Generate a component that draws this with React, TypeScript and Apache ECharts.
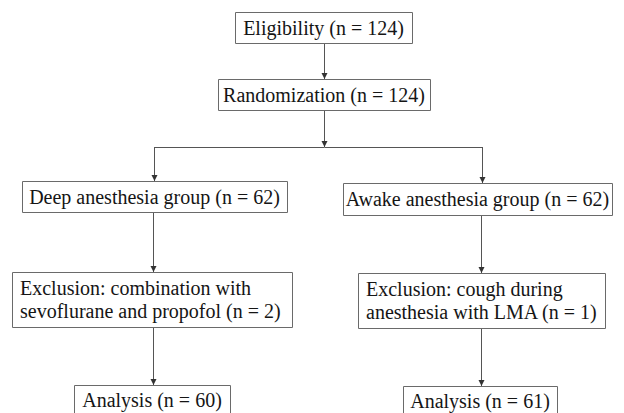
import React, { useEffect, useRef } from "react";
import * as echarts from "echarts";

// ---- data ----
const stageNames = [
  "Eligibility",
  "Randomization",
  "Deep anesthesia group",
  "Awake anesthesia group",
  "Exclusion: combination with\nsevoflurane and propofol",
  "Exclusion: cough during\nanesthesia with LMA",
  "Analysis",
  "Analysis",
];
const stageCounts = [124, 124, 62, 62, 2, 1, 60, 61];
// flow edges: [from, to]
const edges: [number, number][] = [
  [0, 1],
  [1, 2],
  [1, 3],
  [2, 4],
  [3, 5],
  [4, 6],
  [5, 7],
];

// ---- layout (positions/sizes) ----
const boxes = [
  { x: 235, y: 12, w: 177, h: 31, align: "center" },
  { x: 218, y: 79, w: 212, h: 31, align: "center" },
  { x: 22, y: 181, w: 265, h: 31, align: "center" },
  { x: 343, y: 183, w: 269, h: 32, align: "center" },
  { x: 12, y: 272, w: 280, h: 55, align: "left" },
  { x: 358, y: 273, w: 247, h: 55, align: "left" },
  { x: 74, y: 385, w: 156, h: 34, align: "center" },
  { x: 403, y: 386, w: 154, h: 34, align: "center" },
];
const portX = [324, 324, 154, 482, 153, 481, 153, 481];
const splitY = 147;

const LINE = "#555";
const BORDER = "#6a6a6a";
const TEXT = "#151515";
const FAMILY = "Liberation Serif";
const SIZE = 20;

function label(i: number) {
  return `${stageNames[i]} (n = ${stageCounts[i]})`;
}

function arrowHead(x: number, y: number) {
  return {
    type: "polygon",
    z: 4,
    shape: { points: [[x - 3, y - 6], [x + 3, y - 6], [x, y]] },
    style: { fill: "#333" },
    silent: true,
  };
}

function vline(x: number, y1: number, y2: number) {
  return {
    type: "line",
    shape: { x1: x + 0.5, y1, x2: x + 0.5, y2 },
    style: { stroke: LINE, lineWidth: 1 },
  };
}

export default function App() {
  const ref = useRef<HTMLDivElement>(null);
  useEffect(() => {
    if (!ref.current) return;
    const chart = echarts.init(ref.current, undefined, { renderer: "svg" });
    const els: any[] = [];

    boxes.forEach((b, i) => {
      els.push({
        type: "rect",
        shape: { x: b.x + 0.5, y: b.y + 0.5, width: b.w, height: b.h },
        style: { fill: "#fff", stroke: BORDER, lineWidth: 1 },
        z: 2,
      });
      const lines = label(i).split("\n");
      lines.forEach((t, k) => {
        const left = b.align === "left";
        els.push({
          type: "text",
          z: 3,
          style: {
            text: t,
            x: left ? b.x + 8 : b.x + b.w / 2,
            y: left ? b.y + 16 + k * 23 : i >= 6 ? b.y + 15 : b.y + b.h / 2,
            fontFamily: FAMILY,
            fontSize: SIZE,
            fill: TEXT,
            textAlign: left ? "left" : "center",
            textVerticalAlign: "middle",
          },
        });
      });
    });

    // count children of each node
    const childCount: Record<number, number> = {};
    edges.forEach(([a]) => (childCount[a] = (childCount[a] || 0) + 1));
    const splitDone: Record<number, boolean> = {};

    edges.forEach(([a, b]) => {
      const from = boxes[a];
      const to = boxes[b];
      const fx = portX[a];
      const tx = portX[b];
      const fy = from.y + from.h;
      const ty = to.y;
      if (childCount[a] > 1) {
        if (!splitDone[a]) {
          splitDone[a] = true;
          els.push(vline(fx, fy, splitY));
          els.push(arrowHead(fx + 0.5, splitY));
        }
        els.push({
          type: "line",
          shape: { x1: fx + 0.5, y1: splitY + 0.5, x2: tx + 0.5, y2: splitY + 0.5 },
          style: { stroke: LINE, lineWidth: 1 },
        });
        els.push(vline(tx, splitY, ty));
        els.push(arrowHead(tx + 0.5, ty));
      } else {
        els.push(vline(tx, fy, ty));
        els.push(arrowHead(tx + 0.5, ty));
      }
    });

    chart.setOption({
      animation: false,
      backgroundColor: "#fff",
      graphic: { elements: els },
    });
    return () => chart.dispose();
  }, []);
  return (
    <div
      ref={ref}
      style={{ position: "absolute", left: 0, top: 0, width: 624, height: 413 }}
    />
  );
}
